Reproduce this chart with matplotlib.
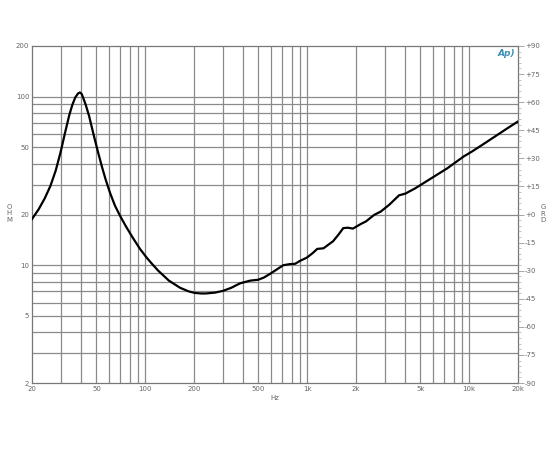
import numpy as np
import matplotlib
matplotlib.use("Agg")
import matplotlib.pyplot as plt
from matplotlib.ticker import FixedLocator, NullFormatter, MultipleLocator

# impedance curve
freq = [20, 22, 24, 26, 28, 30, 32, 34, 35.5, 37, 38.5, 39.5, 40.5, 41.5, 43,
        45, 47.9, 51, 54, 57, 60.7, 65, 70, 76, 84, 92.8, 102, 110, 120, 140,
        164, 185, 202, 220, 238, 270, 303, 340, 384, 444, 498, 540, 591, 650,
        711, 780, 843, 900, 996, 1080, 1153, 1260, 1446, 1560, 1668, 1780,
        1916, 2150, 2305, 2590, 2840, 3200, 3690, 4030, 4640, 5830, 7320,
        9240, 10400, 12000, 14000, 17000, 20000]
ohm = [18.8, 21.5, 25, 29.6, 36.4, 46.7, 61.2, 78, 89.6, 99, 104.6, 106, 104, 98, 89,
       77, 60, 47.3, 38.5, 32.2, 26.8, 22.6, 19.6, 17.0, 14.5, 12.5, 11.1, 10.2, 9.3, 8.1,
       7.35, 7.0, 6.85, 6.8, 6.8, 6.88, 7.05, 7.35, 7.8, 8.1, 8.2, 8.45, 8.9, 9.45,
       10.0, 10.15, 10.2, 10.6, 11.1, 11.8, 12.5, 12.6, 13.9, 15.2, 16.6, 16.7,
       16.5, 17.6, 18.2, 19.9, 20.8, 22.8, 26, 26.6, 28.6, 32.8, 37.6,
       44.2, 47.3, 51.7, 57, 64.5, 71.3]

x_ticks = [20, 50, 100, 200, 500, 1000, 2000, 5000, 10000, 20000]
x_labels = ["20", "50", "100", "200", "500", "1k", "2k", "5k", "10k", "20k"]
y_ticks = [2, 5, 10, 20, 50, 100, 200]
y_labels = ["2", "5", "10", "20", "50", "100", "200"]
deg_ticks = list(range(-90, 91, 15))
deg_labels = ["+%d" % d if d >= 0 else "%d" % d for d in deg_ticks]

grid_col = "#8a8a8a"
txt_col = "#666666"

fig = plt.figure(figsize=(5.5, 4.5), dpi=100)
ax = fig.add_axes([32 / 550, 67 / 450, 486 / 550, 337 / 450])

ax.plot(freq, ohm, color="black", lw=1.6, zorder=3)
ax.set_xscale("log")
ax.set_yscale("log")
ax.set_xlim(20, 20000)
ax.set_ylim(2, 200)

# full log grid
xg = [m * 10 ** e for e in range(1, 5) for m in range(1, 10)]
xg = [v for v in xg if 20 < v < 20000]
yg = [m * 10 ** e for e in range(0, 3) for m in range(1, 10)]
yg = [v for v in yg if 2 < v < 200]
for v in xg:
    ax.axvline(v, color=grid_col, lw=0.9, zorder=1)
for v in yg:
    ax.axhline(v, color=grid_col, lw=0.9, zorder=1)

ax.xaxis.set_major_locator(FixedLocator(x_ticks))
ax.set_xticklabels(x_labels)
ax.xaxis.set_minor_formatter(NullFormatter())
ax.yaxis.set_major_locator(FixedLocator(y_ticks))
ax.set_yticklabels(y_labels)
ax.yaxis.set_minor_formatter(NullFormatter())
ax.tick_params(which="both", length=0, labelsize=5, colors=txt_col, pad=2)

for s in ax.spines.values():
    s.set_color("#777777")
    s.set_linewidth(0.9)

ax2 = ax.twinx()
ax2.set_ylim(-90, 90)
ax2.set_yticks(deg_ticks)
ax2.set_yticklabels(deg_labels)
ax2.yaxis.set_minor_locator(MultipleLocator(3))
ax2.tick_params(which="major", length=4, width=0.6, colors="#999999",
                labelcolor=txt_col, labelsize=5, pad=1)
ax2.tick_params(which="minor", length=2, width=0.5, colors="#aaaaaa")
for s in ax2.spines.values():
    s.set_visible(False)

fig.text(275 / 550, 1 - 398 / 450, "Hz", fontsize=5, color=txt_col, ha="center", va="center")
fig.text(9 / 550, 1 - 213 / 450, "O\nH\nM", fontsize=5, color=txt_col,
         ha="center", va="center", linespacing=1.1)
fig.text(543 / 550, 1 - 214 / 450, "G\nR\nD", fontsize=5, color=txt_col,
         ha="center", va="center", linespacing=1.1)
fig.text(506 / 550, 1 - 53 / 450, "Ap)", fontsize=6.5, color="#3a8fb7",
         ha="center", va="center", style="italic", fontweight="bold")

fig.savefig("out.png", dpi=100)
